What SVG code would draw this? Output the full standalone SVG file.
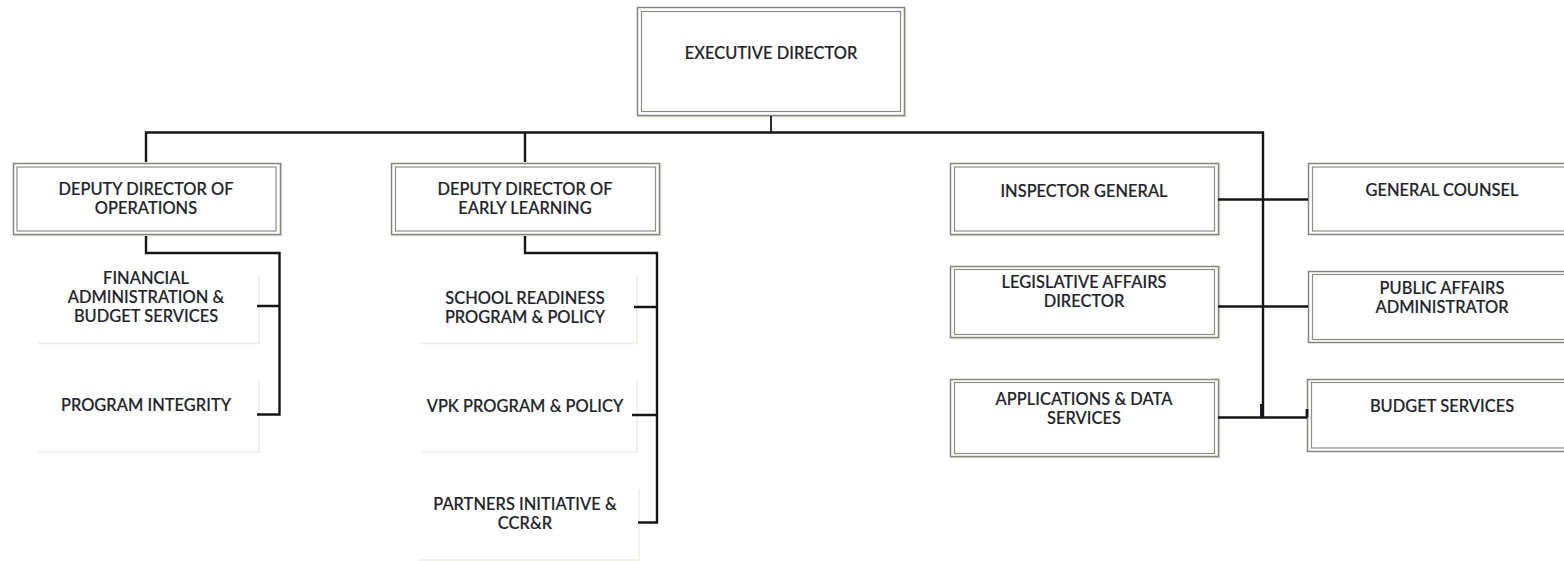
<svg xmlns="http://www.w3.org/2000/svg" width="1564" height="561" viewBox="0 0 1564 561">
<defs><style>
.h{fill:none;stroke:#e4e5da;stroke-width:2}
.o{fill:#fff;stroke:#85857f;stroke-width:1.5}
.i{fill:#fff;stroke:#8d8d85;stroke-width:1.2}
.f{fill:none;stroke:#f0ede6;stroke-width:1.5}
.c{fill:none;stroke:#16161a;stroke-width:2.4}
text{font-family:"Lato","Open Sans","Liberation Sans",sans-serif;font-size:16.4px;font-weight:500;fill:#22242a;stroke:#22242a;stroke-width:.2;text-anchor:middle;letter-spacing:.05px}
</style></defs>
<rect width="1564" height="561" fill="#fff"/>
<g id="executive-director"><rect class="h" x="638.500" y="8.500" width="267" height="108"/><rect class="o" x="637.500" y="7.500" width="267" height="108"/><rect class="i" x="641.500" y="11.500" width="259" height="100"/><text x="771" y="59">EXECUTIVE DIRECTOR</text></g>
<g id="deputy-operations"><rect class="h" x="14.500" y="164.500" width="267" height="71"/><rect class="o" x="13.500" y="163.500" width="267" height="71"/><rect class="i" x="17" y="167" width="259" height="64"/><text x="146" y="195">DEPUTY DIRECTOR OF</text><text x="146" y="214">OPERATIONS</text></g>
<g id="deputy-early-learning"><rect class="h" x="392.500" y="164.500" width="268" height="71"/><rect class="o" x="391.500" y="163.500" width="268" height="71"/><rect class="i" x="395.500" y="167" width="260" height="64"/><text x="525" y="195">DEPUTY DIRECTOR OF</text><text x="525" y="214">EARLY LEARNING</text></g>
<g id="financial-administration"><path class="f" d="M38 343.500H259V275"/><text x="146" y="284">FINANCIAL</text><text x="146" y="303">ADMINISTRATION &amp;</text><text x="146" y="322">BUDGET SERVICES</text></g>
<g id="program-integrity"><path class="f" d="M38 452H259V381"/><text x="146" y="411">PROGRAM INTEGRITY</text></g>
<g id="school-readiness"><path class="f" d="M420 343.500H637V275"/><text x="525" y="304">SCHOOL READINESS</text><text x="525" y="323">PROGRAM &amp; POLICY</text></g>
<g id="vpk-program"><path class="f" d="M422 452H637V381"/><text x="525" y="412">VPK PROGRAM &amp; POLICY</text></g>
<g id="partners-initiative"><path class="f" d="M418 560H639V489"/><text x="525" y="510">PARTNERS INITIATIVE &amp;</text><text x="525" y="529">CCR&amp;R</text></g>
<g id="inspector-general"><rect class="h" x="951.500" y="164.500" width="268" height="71"/><rect class="o" x="950.500" y="163.500" width="268" height="71"/><rect class="i" x="954.500" y="167" width="260" height="64"/><text x="1084" y="197">INSPECTOR GENERAL</text></g>
<g id="legislative-affairs"><rect class="h" x="951.500" y="267.500" width="268" height="71"/><rect class="o" x="950.500" y="266.500" width="268" height="71"/><rect class="i" x="954.500" y="269.500" width="260" height="65"/><text x="1084" y="288">LEGISLATIVE AFFAIRS</text><text x="1084" y="307">DIRECTOR</text></g>
<g id="applications-data"><rect class="h" x="951.500" y="380.500" width="268" height="77"/><rect class="o" x="950.500" y="379.500" width="268" height="77"/><rect class="i" x="954.500" y="382.500" width="260" height="71"/><text x="1084" y="405">APPLICATIONS &amp; DATA</text><text x="1084" y="424">SERVICES</text></g>
<g id="general-counsel"><rect class="o" x="1308.500" y="163.500" width="270" height="71"/><rect class="i" x="1312.500" y="167" width="262" height="64"/><text x="1442" y="196">GENERAL COUNSEL</text></g>
<g id="public-affairs"><rect class="o" x="1308.500" y="271.500" width="270" height="71"/><rect class="i" x="1312.500" y="274.500" width="262" height="65"/><text x="1442" y="294">PUBLIC AFFAIRS</text><text x="1442" y="313">ADMINISTRATOR</text></g>
<g id="budget-services"><rect class="o" x="1307.500" y="379.500" width="270" height="72"/><rect class="i" x="1311.500" y="382.500" width="262" height="65.500"/><text x="1442" y="412">BUDGET SERVICES</text></g>
<g id="connectors">
<path class="c" d="M146 162V132.500H1263V417"/>
<path class="c" d="M771 116V132.500" style="stroke-width:1.8"/>
<path class="c" d="M525 132.500V162"/>
<path class="c" d="M146 236V253H279.500V414.500H257M279.500 306H257"/>
<path class="c" d="M525 236V253H657V522.500H638M657 307H634M657 415H632"/>
<path class="c" d="M1218 199.500H1308M1218 306.500H1308M1218 417.500H1307"/>
<path class="c" d="M1307 409V417.500M1261.500 404V417" style="stroke-width:2.8"/>
</g>
</svg>
